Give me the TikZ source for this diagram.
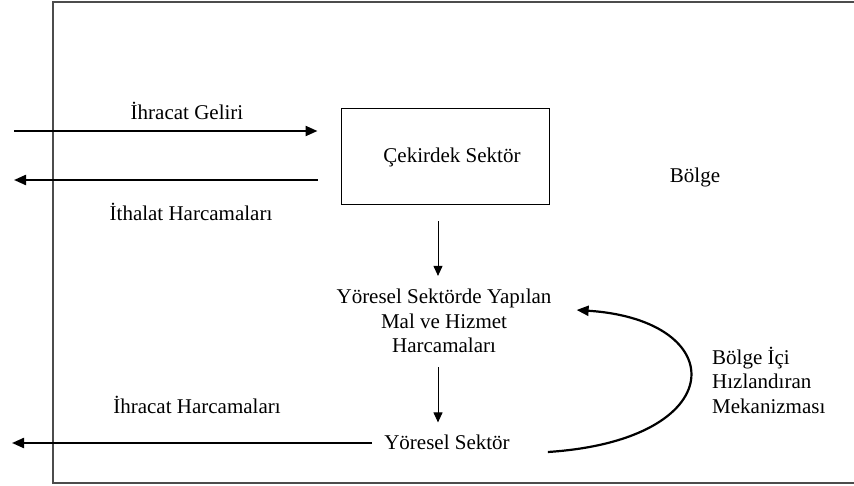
\documentclass[tikz,border=0pt]{standalone}
\usepackage{fontspec}
\setmainfont{Liberation Serif}
\usetikzlibrary{arrows.meta}
\begin{document}
\begin{tikzpicture}[x=1pt,y=-1pt,
  txt/.style={inner sep=0pt,font=\fontsize{21}{24.5}\selectfont},
  boxnode/.style={draw,line width=1pt,minimum width=208pt,minimum height=96pt,inner sep=0pt,font=\fontsize{21}{24.5}\selectfont},
  bigarrow/.style={line width=2.2pt,-{Triangle[length=12pt,width=10pt]}},
  thinarrow/.style={line width=1pt,-{Triangle[length=10pt,width=9pt]}},
  outer/.style={draw=black!70,line width=1.3pt}]
\useasboundingbox (0,0) rectangle (854,486);
\draw[outer] (860,2) -- (53,2) -- (53,483) -- (860,483);
\node[boxnode] (core) at (445,157) {\hspace*{14pt}Çekirdek Sektör};
\node[txt] (bolge) at (695,177) {Bölge};
\node[txt] (lgelir) at (187,111) {İhracat Geliri};
\node[txt] (lithal) at (191,212) {İthalat Harcamaları};
\node[txt] (lihrh) at (197,405) {İhracat Harcamaları};
\node[txt,align=center] (mid) at (444,321) {Yöresel Sektörde Yapılan\\Mal ve Hizmet\\Harcamaları};
\node[txt] (ys) at (447,442) {Yöresel Sektör};
\node[txt,align=left,anchor=west] (mek) at (712,380) {Bölge İçi\\Hızlandıran\\Mekanizması};
\coordinate (in1) at (14,131);
\coordinate (out1) at (14,180);
\coordinate (out2) at (12,443);
\draw[bigarrow] (in1) -- ([xshift=-23pt,yshift=26pt]core.west);
\draw[bigarrow] ([xshift=-23pt,yshift=-23pt]core.west) -- (out1);
\draw[thinarrow] ([xshift=-7pt,yshift=-16pt]core.south) -- ([xshift=-6pt,yshift=13pt]mid.north);
\draw[thinarrow] ([xshift=-6pt,yshift=-14pt]mid.south) -- ([xshift=-9pt,yshift=12pt]ys.north);
\draw[bigarrow] ([xshift=-12pt,yshift=-1pt]ys.west) -- (out2);
\draw[bigarrow] ([xshift=38pt,yshift=-10pt]ys.east) .. controls (732,440) and (732,320) .. ([xshift=25pt,yshift=11pt]mid.east);
\end{tikzpicture}
\end{document}
